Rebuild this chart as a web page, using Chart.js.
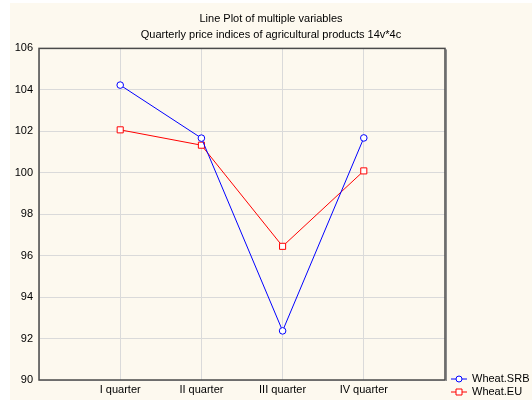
<!DOCTYPE html>
<html>
<head>
<meta charset="utf-8">
<script src="https://cdn.jsdelivr.net/npm/chart.js@4/dist/chart.umd.min.js"></script>
<style>
    html, body { margin: 0; padding: 0; background: #fff; }
    #wrap {
        position: absolute; left: 10px; top: 3px;
        width: 522px; height: 397px; background: #fdf9ef;
    }
</style>
</head>
<body>
<div id="wrap"><canvas id="c" width="522" height="397"></canvas></div>
<script>
    // Quarterly price indices.
    const categories = ['I quarter', 'II quarter', 'III quarter', 'IV quarter'];
    const wheatSrb = [104.23, 101.67, 92.37, 101.68];
    const wheatEu = [102.07, 101.33, 96.45, 100.09];
    const yTicks = [90, 92, 94, 96, 98, 100, 102, 104, 106];

    const font = { family: "'Liberation Sans', Arial, sans-serif", size: 11 };

    // category n sits at x = n on a 0..5 linear axis, which leaves half a slot of room at each end
    const toPoints = arr => arr.map((v, i) => ({ x: i + 1, y: v }));

    // Frame round the plot + STATISTICA-style legend (line with marker) in the bottom-right corner.
    const framePlugin = {
        id: 'frame',
        afterDatasetsDraw(chart) {
            const { ctx, chartArea: a } = chart;
            ctx.save();
            ctx.strokeStyle = '#4a4a4a';
            ctx.lineWidth = 1.5;
            ctx.strokeRect(a.left, a.top, a.right - a.left, a.bottom - a.top);
            ctx.strokeStyle = '#8a8a8a';
            ctx.lineWidth = 1;
            ctx.beginPath();
            ctx.moveTo(a.right + 1.5, a.top + 1);
            ctx.lineTo(a.right + 1.5, a.bottom + 1);
            ctx.stroke();
            ctx.restore();
        },
        afterDraw(chart) {
            const { ctx, chartArea: a } = chart;
            ctx.save();
            ctx.font = `${font.size}px ${font.family}`;
            ctx.textBaseline = 'middle';
            chart.data.datasets.forEach((ds, i) => {
                const y = a.bottom - 1 + i * 13;
                const x0 = a.right + 6;
                ctx.strokeStyle = ds.borderColor;
                ctx.lineWidth = 1;
                ctx.beginPath();
                ctx.moveTo(x0, y);
                ctx.lineTo(x0 + 16, y);
                ctx.stroke();
                ctx.fillStyle = '#fff';
                ctx.beginPath();
                if (ds.pointStyle === 'rect') ctx.rect(x0 + 5, y - 3, 6, 6);
                else ctx.arc(x0 + 8, y, 3, 0, Math.PI * 2);
                ctx.fill();
                ctx.stroke();
                ctx.fillStyle = '#000';
                ctx.fillText(ds.label, x0 + 21, y);
            });
            ctx.restore();
        },
    };

    new Chart(document.getElementById('c'), {
        type: 'line',
        data: {
            datasets: [
                {
                    label: 'Wheat.SRB',
                    data: toPoints(wheatSrb),
                    borderColor: '#0000ff',
                    borderWidth: 1,
                    pointStyle: 'circle',
                    pointRadius: 3.3,
                    pointBorderWidth: 1,
                    pointBackgroundColor: '#fff',
                    pointBorderColor: '#0000ff',
                },
                {
                    label: 'Wheat.EU',
                    data: toPoints(wheatEu),
                    borderColor: '#ff0000',
                    borderWidth: 1,
                    pointStyle: 'rect',
                    pointRadius: 4.3,
                    pointBorderWidth: 1,
                    pointBackgroundColor: '#fff',
                    pointBorderColor: '#ff0000',
                },
            ],
        },
        options: {
            responsive: false,
            animation: false,
            layout: { padding: 0 },
            plugins: {
                legend: { display: false },
                tooltip: { enabled: false },
                title: {
                    display: true,
                    text: 'Line Plot of multiple variables',
                    color: '#000',
                    font: { ...font, weight: 'normal' },
                    padding: { top: 9, bottom: 3 },
                },
                subtitle: {
                    display: true,
                    text: 'Quarterly price indices of agricultural products 14v*4c',
                    color: '#000',
                    font,
                    padding: { top: 0, bottom: 7 },
                },
            },
            scales: {
                x: {
                    type: 'linear',
                    min: 0,
                    max: 5,
                    afterBuildTicks: s => { s.ticks = [0, 1, 2, 3, 4, 5].map(v => ({ value: v })); },
                    afterFit: s => { s.height = 20; },
                    ticks: {
                        color: '#000',
                        font,
                        padding: 3,
                        maxRotation: 0,
                        autoSkip: false,
                        callback: v => categories[v - 1] || '',
                    },
                    grid: { color: '#dadada', lineWidth: 1, drawTicks: false },
                    border: { display: false },
                },
                y: {
                    min: yTicks[0],
                    max: yTicks[yTicks.length - 1],
                    afterBuildTicks: s => { s.ticks = yTicks.map(v => ({ value: v })); },
                    afterFit: s => { s.width = 29; },
                    ticks: { color: '#000', font, padding: 6 },
                    grid: { color: '#dadada', lineWidth: 1, drawTicks: false },
                    border: { display: false },
                },
                // empty right-hand axis: only reserves the strip where the legend is drawn,
                // so the titles stay centred on the whole panel
                legendSpace: {
                    type: 'linear',
                    position: 'right',
                    min: 0,
                    max: 1,
                    afterFit: s => { s.width = 87; },
                    ticks: { display: false },
                    grid: { display: false, drawTicks: false },
                    border: { display: false },
                },
            },
        },
        plugins: [framePlugin],
    });
</script>
</body>
</html>
